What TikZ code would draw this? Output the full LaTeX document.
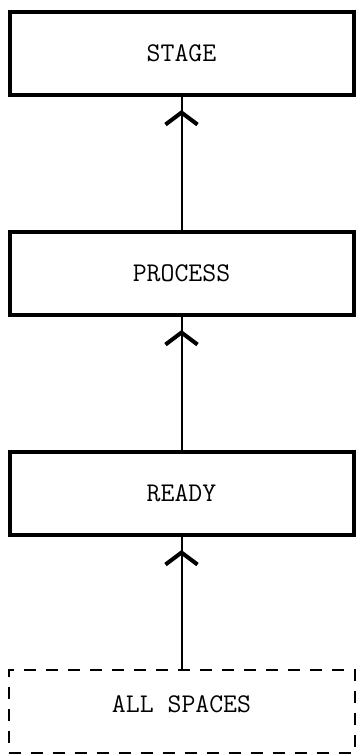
\documentclass[tikz,border=0pt]{standalone}
\usetikzlibrary{positioning,arrows.meta,decorations.markings}

\begin{document}
\begin{tikzpicture}[x=1pt,y=1pt,
    node distance=133pt,
    BoxStyle/.style={draw, line width=4pt, minimum width=344pt, minimum height=83pt,
        font=\ttfamily\fontsize{27}{30}\selectfont},
    DashStyle/.style={draw, line width=2pt, dash pattern=on 12pt off 10pt,
        minimum width=346pt, minimum height=83pt, text depth=14pt,
        font=\ttfamily\fontsize{27}{30}\selectfont},
    FlowStyle/.style={line width=2pt, postaction={decorate},
        decoration={markings, mark=at position -13pt with
        {\arrow{Straight Barb[length=12pt, width=32pt, line width=4pt]}}}}]
    \useasboundingbox (0,0) rectangle (363,-756);
    \node[BoxStyle] (stage) at (181.5,-53.5) {STAGE};
    \node[BoxStyle, below=of stage] (process) {PROCESS};
    \node[BoxStyle, below=of process] (ready) {READY};
    \node[DashStyle, below=132pt of ready] (spaces) {ALL SPACES};
    \draw[FlowStyle] (process.north) -- (stage.south);
    \draw[FlowStyle] (ready.north) -- (process.south);
    \draw[FlowStyle] (spaces.north) -- (ready.south);
\end{tikzpicture}
\end{document}
